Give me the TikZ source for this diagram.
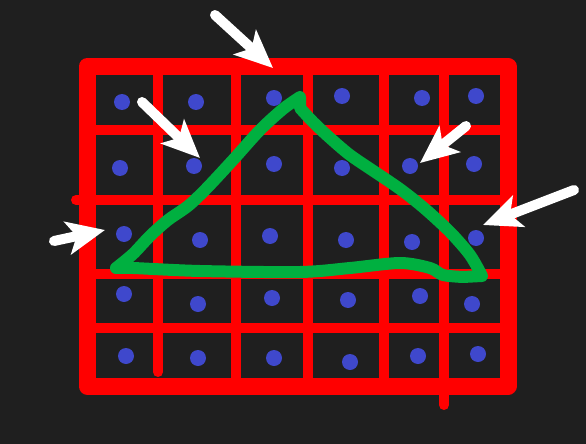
\documentclass[tikz,border=0pt]{standalone}
\usepackage{tikz}
\usetikzlibrary{arrows.meta}
\definecolor{bg}{RGB}{31,31,31}
\definecolor{gridred}{RGB}{255,0,0}
\definecolor{dotblue}{RGB}{63,72,204}
\definecolor{pengreen}{RGB}{0,176,64}

\begin{document}
\begin{tikzpicture}[x=1pt,y=-1pt]
		\tikzset{
			bluedot/.style={circle,fill=dotblue,minimum size=16pt,inner sep=0pt},
		}
		\tikzset{
			outerframe/.style={color=gridred,line width=17pt,line join=round},
			gridbar/.style={color=gridred,line width=10pt,line cap=round},
			greenpen/.style={color=pengreen,line width=12pt,line cap=round,line join=round},
			pointer/.style={color=white,line width=10pt,line cap=round,-{Stealth[length=38pt,width=33pt,inset=9pt]}},
		}
		
		\fill[color=bg] (0,0) rectangle (586,444);
		
		\draw[gridbar] (158,66) -- (158,372);
		\draw[gridbar] (236,66) -- (236,386);
		\draw[gridbar] (308,66) -- (308,386);
		\draw[gridbar] (384,66) -- (384,386);
		\draw[gridbar] (444,66) -- (444,405);
		\draw[gridbar] (87,130) -- (508,130);
		\draw[gridbar] (76,200) -- (508,200);
		\draw[gridbar] (87,274) -- (508,274);
		\draw[gridbar] (87,328) -- (508,328);
		\draw[outerframe] (87,66.5) rectangle (508,386);
		
		\node[bluedot] (d11) at (122,102) {};
		\node[bluedot] (d12) at (196,102) {};
		\node[bluedot] (d13) at (274,98) {};
		\node[bluedot] (d14) at (342,96) {};
		\node[bluedot] (d15) at (422,98) {};
		\node[bluedot] (d16) at (476,96) {};
		
		\node[bluedot] (d21) at (120,168) {};
		\node[bluedot] (d22) at (194,166) {};
		\node[bluedot] (d23) at (274,164) {};
		\node[bluedot] (d24) at (342,168) {};
		\node[bluedot] (d25) at (410,166) {};
		\node[bluedot] (d26) at (474,164) {};
		
		\node[bluedot] (d31) at (124,234) {};
		\node[bluedot] (d32) at (200,240) {};
		\node[bluedot] (d33) at (270,236) {};
		\node[bluedot] (d34) at (346,240) {};
		\node[bluedot] (d35) at (412,242) {};
		\node[bluedot] (d36) at (476,238) {};
		
		\node[bluedot] (d41) at (124,294) {};
		\node[bluedot] (d42) at (198,304) {};
		\node[bluedot] (d43) at (272,298) {};
		\node[bluedot] (d44) at (348,300) {};
		\node[bluedot] (d45) at (420,296) {};
		\node[bluedot] (d46) at (472,304) {};
		
		\node[bluedot] (d51) at (126,356) {};
		\node[bluedot] (d52) at (198,358) {};
		\node[bluedot] (d53) at (274,358) {};
		\node[bluedot] (d54) at (350,362) {};
		\node[bluedot] (d55) at (418,356) {};
		\node[bluedot] (d56) at (478,354) {};
		
		\draw[greenpen] plot[smooth,tension=0.5] coordinates {(116,268) (133,254) (150,236) (168,220) (188,206) (206,189) (233,160) (260,130) (283,109) (300,97)}
			-- plot[smooth,tension=0.5] coordinates {(300,108) (313,122) (330,138) (350,155) (375,172) (400,189) (424,208) (450,232) (470,255) (482,276)}
			-- plot[smooth,tension=0.5] coordinates {(463,277) (443,275) (430,268) (400,263) (350,268) (300,272) (200,271) (133,268) (116,268)};
		
		\coordinate (topS) at (215,15);
		\coordinate (topT) at (273,68);
		\coordinate (innS) at (142,102);
		\coordinate (innT) at (200,158);
		\coordinate (rinS) at (466,126);
		\coordinate (rinT) at (420,163);
		\coordinate (routS) at (574,190);
		\coordinate (routT) at (483,225);
		\coordinate (leftS) at (54,241);
		\coordinate (leftT) at (105,230);
		
		\draw[pointer] (topS) to (topT);
		\draw[pointer] (innS) to (innT);
		\draw[pointer] (rinS) to (rinT);
		\draw[pointer] (routS) to (routT);
		\draw[pointer] (leftS) to (leftT);
	\end{tikzpicture}
\end{document}
